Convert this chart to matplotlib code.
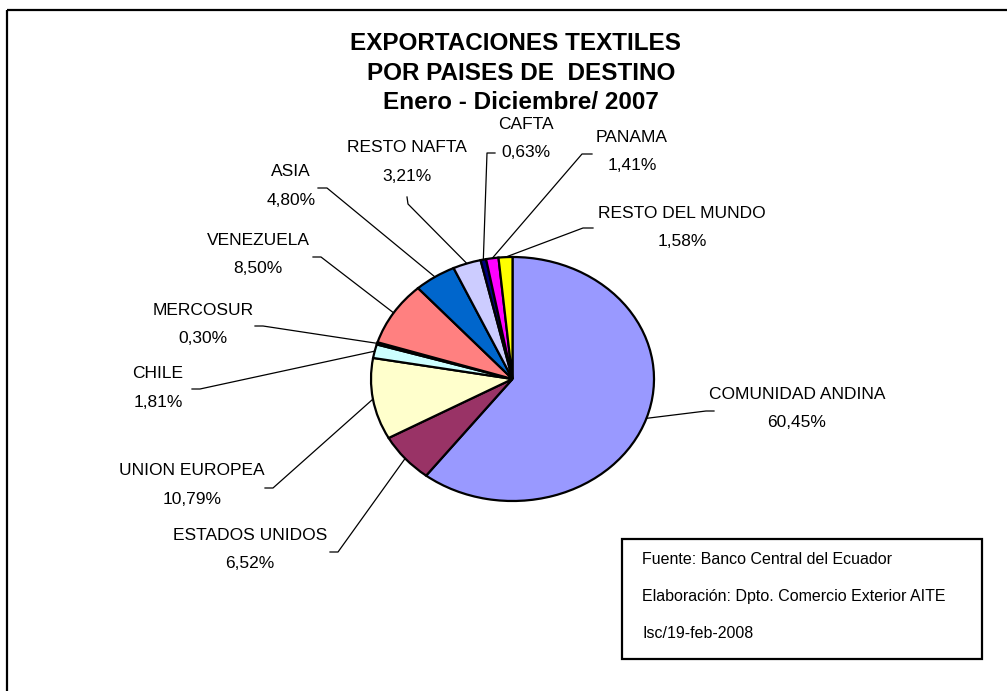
import numpy as np
import matplotlib
matplotlib.use("Agg")
import matplotlib.pyplot as plt
import matplotlib.patches as patches

plt.rcParams['font.family'] = ['Liberation Sans', 'DejaVu Sans']

# data, clockwise from 12 o'clock
regions = ['COMUNIDAD ANDINA', 'ESTADOS UNIDOS', 'UNION EUROPEA', 'CHILE',
           'MERCOSUR', 'VENEZUELA', 'ASIA', 'RESTO NAFTA', 'CAFTA',
           'PANAMA', 'RESTO DEL MUNDO']
shares = [60.45, 6.52, 10.79, 1.81, 0.30, 8.50, 4.80, 3.21, 0.63, 1.41, 1.58]
colors = ['#9999FF', '#993366', '#FFFFCC', '#CCFFFF', '#660066', '#FF8080',
          '#0066CC', '#CCCCFF', '#000080', '#FF00FF', '#FFFF00']

title_lines = ['EXPORTACIONES TEXTILES', 'POR PAISES DE  DESTINO',
               'Enero - Diciembre/ 2007']
notes = ['Fuente: Banco Central del Ecuador',
         'Elaboración: Dpto. Comercio Exterior AITE',
         'Isc/19-feb-2008']

# label layout in pixels (x centre, name y, pct y) and leader stubs
label_pos = {
    'COMUNIDAD ANDINA': (797, 394, 422),
    'ESTADOS UNIDOS': (250, 535, 564),
    'UNION EUROPEA': (192, 470, 499),
    'CHILE': (158, 373, 402),
    'MERCOSUR': (203, 310, 338),
    'VENEZUELA': (258, 240, 268),
    'ASIA': (291, 171, 200),
    'RESTO NAFTA': (407, 147, 176),
    'CAFTA': (526, 124, 152),
    'PANAMA': (632, 137, 165),
    'RESTO DEL MUNDO': (682, 213, 241),
}
stubs = {
    'COMUNIDAD ANDINA': [(714, 411), (706, 411)],
    'ESTADOS UNIDOS': [(330, 552), (338, 552)],
    'UNION EUROPEA': [(265, 488), (273, 488)],
    'CHILE': [(192, 389), (200, 389)],
    'MERCOSUR': [(255, 326), (263, 326)],
    'VENEZUELA': [(313, 257), (321, 257)],
    'ASIA': [(318, 188), (327, 188)],
    'RESTO NAFTA': [(407, 197), (408, 204)],
    'CAFTA': [(495, 153), (487, 153)],
    'PANAMA': [(592, 154), (582, 154)],
    'RESTO DEL MUNDO': [(593, 228), (583, 228)],
}

W, H = 1007, 691
fig = plt.figure(figsize=(W / 100, H / 100), dpi=100)

# pie is a little squashed vertically, like the Excel original
cx, cy, rx, ry = 512.5, 379, 141.5, 122
pax = fig.add_axes([(cx - rx) / W, (H - cy - ry) / H, 2 * rx / W, 2 * ry / H])
wedges, _ = pax.pie(shares, colors=colors, startangle=90, counterclock=False,
                    wedgeprops=dict(edgecolor='black', linewidth=1.6))
for w in wedges:
    w.set_clip_on(False)
pax.set_aspect('auto')
pax.set_xlim(-1, 1)
pax.set_ylim(-1, 1)
pax.axis('off')

# overlay in pixel coordinates, y down
ax = fig.add_axes([0, 0, 1, 1])
ax.set_xlim(0, W)
ax.set_ylim(H, 0)
ax.axis('off')
ax.patch.set_alpha(0)

to_pix = pax.transData + ax.transData.inverted()

for w, name, val in zip(wedges, regions, shares):
    mid = np.deg2rad((w.theta1 + w.theta2) / 2)
    edge = to_pix.transform((np.cos(mid), np.sin(mid)))
    pts = stubs[name] + [tuple(edge)]
    xs, ys = zip(*pts)
    ax.plot(xs, ys, color='black', lw=0.9)
    x, y1, y2 = label_pos[name]
    ax.text(x, y1, name, ha='center', va='center', fontsize=12.5)
    ax.text(x, y2, f'{val:.2f}%'.replace('.', ','), ha='center',
            va='center', fontsize=12.5)

for txt, x, y in zip(title_lines, [515, 521, 521], [43, 73, 102]):
    ax.text(x, y, txt, ha='center', va='center', fontsize=17.5,
            fontweight='bold')

# source box
ax.add_patch(patches.Rectangle((622, 539), 360, 120, fill=False,
                               edgecolor='black', lw=1.6))
for txt, y in zip(notes, [560, 597, 633]):
    ax.text(642, y, txt, ha='left', va='center', fontsize=11.5)

# chart area border (runs off the right and bottom)
ax.add_patch(patches.Rectangle((7, 10), 1100, 800, fill=False,
                               edgecolor='black', lw=1.6))

fig.savefig('out.png', dpi=100)
